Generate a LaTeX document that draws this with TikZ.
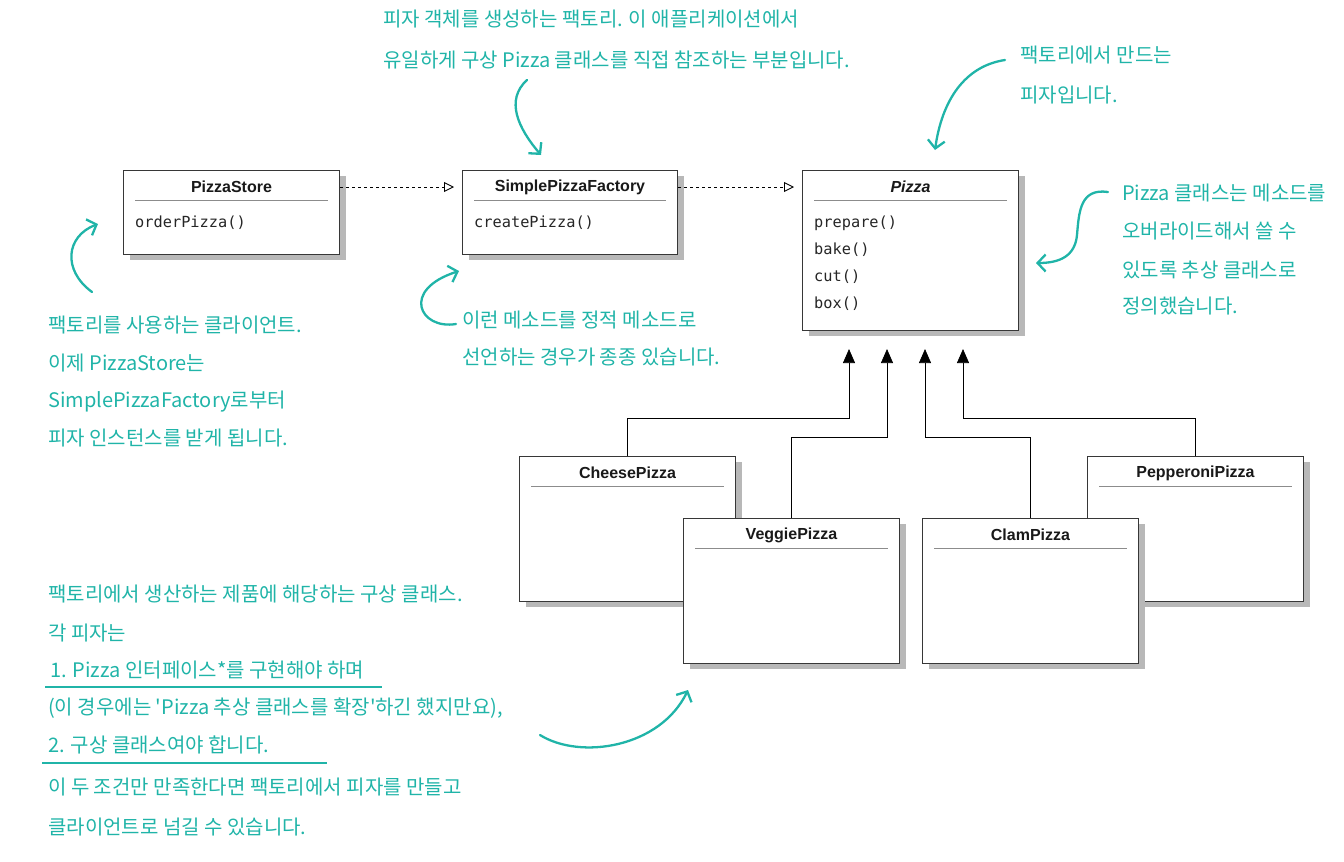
\documentclass[tikz,border=0pt]{standalone}
\usepackage{fontspec}
\setmainfont{Liberation Sans}
\newfontfamily\krfont{Noto Sans CJK KR}
\newfontfamily\monofont{DejaVu Sans Mono}
\usetikzlibrary{arrows.meta,shadows,calc}
\definecolor{anno}{RGB}{32,180,168}
\definecolor{boxline}{RGB}{55,55,55}
\begin{document}
\begin{tikzpicture}[x=1pt,y=-1pt,
  cls/.style={draw=boxline, line width=1pt, fill=white, anchor=north west, inner sep=0pt,
    minimum width=216pt, drop shadow={shadow xshift=6pt, shadow yshift=-5pt, fill=black!28, opacity=1}},
  ttl/.style={font=\fontsize{16}{18}\selectfont\bfseries, inner sep=0pt, text=black!90},
  mth/.style={font=\monofont\fontsize{15.3}{18}\selectfont, anchor=base west, inner sep=0pt, text=black!85},
  sep/.style={draw=black!45, line width=0.9pt},
  dep/.style={dashed, line width=0.9pt, shorten >=8pt, -{Triangle[open,length=10pt,width=10pt]}},
  inh/.style={line width=0.7pt, shorten >=18pt, -{Triangle[length=14pt,width=12pt]}},
  note/.style={font=\krfont\fontsize{20}{23}\selectfont, text=anno, anchor=base west, inner sep=0pt},
  hand/.style={draw=anno, line width=2.3pt, line cap=round, -{Straight Barb[length=8pt,width=17pt]}},
  uline/.style={draw=anno, line width=1.6pt},
]
\useasboundingbox (0,0) rectangle (1344,862);

% ---- top classes
\node[cls, minimum height=84pt] (ps) at (123,170) {};
\node[ttl] (pst) at ($(ps.north)+(0,17)$) {PizzaStore};
\draw[sep] ($(ps.north west)+(12,30)$) -- ($(ps.north east)+(-12,30)$);
\node[mth] (psm) at ($(ps.north west)+(12,57)$) {orderPizza()};

\node[cls, minimum height=84pt, minimum width=215pt] (sf) at (462,170) {};
\node[ttl] (sft) at ($(sf.north)+(0,17)$) {SimplePizzaFactory};
\draw[sep] ($(sf.north west)+(12,30)$) -- ($(sf.north east)+(-12,30)$);
\node[mth] (sfm) at ($(sf.north west)+(12,57)$) {createPizza()};

\node[cls, minimum height=160pt] (pz) at (802,170) {};
\node[ttl, font=\fontsize{16}{18}\selectfont\bfseries\itshape] (pzt) at ($(pz.north)+(0,17)$) {Pizza};
\draw[sep] ($(pz.north west)+(12,30)$) -- ($(pz.north east)+(-12,30)$);
\node[mth] (pzm1) at ($(pz.north west)+(12,57)$) {prepare()};
\node[mth] (pzm2) at ($(pz.north west)+(12,84)$) {bake()};
\node[mth] (pzm3) at ($(pz.north west)+(12,111)$) {cut()};
\node[mth] (pzm4) at ($(pz.north west)+(12,138)$) {box()};

\draw[dep] (pst -| ps.east) -- (sft -| sf.west);
\draw[dep] (sft -| sf.east) -- (pzt -| pz.west);

% ---- concrete classes
\node[cls, minimum height=145pt] (cp) at (519,456) {};
\node[ttl] (cpt) at ($(cp.north)+(0,17)$) {CheesePizza};
\draw[sep] ($(cp.north west)+(12,30)$) -- ($(cp.north east)+(-12,30)$);

\node[cls, minimum height=145pt] (pp) at (1087,456) {};
\node[ttl] (ppt) at ($(pp.north)+(0,17)$) {PepperoniPizza};
\draw[sep] ($(pp.north west)+(12,30)$) -- ($(pp.north east)+(-12,30)$);

\node[cls, minimum height=145pt] (vp) at (683,518) {};
\node[ttl] (vpt) at ($(vp.north)+(0,17)$) {VeggiePizza};
\draw[sep] ($(vp.north west)+(12,30)$) -- ($(vp.north east)+(-12,30)$);

\node[cls, minimum height=145pt] (cl) at (922,518) {};
\node[ttl] (clt) at ($(cl.north)+(0,17)$) {ClamPizza};
\draw[sep] ($(cl.north west)+(12,30)$) -- ($(cl.north east)+(-12,30)$);

\coordinate (h1) at (849,418);
\coordinate (h2) at (887,437);
\coordinate (h3) at (925,437);
\coordinate (h4) at (963,418);
\draw[inh] (cp.north) |- (h1) -- (h1 |- pz.south);
\draw[inh] (vp.north) |- (h2) -- (h2 |- pz.south);
\draw[inh] (cl.north) |- (h3) -- (h3 |- pz.south);
\draw[inh] (pp.north) |- (h4) -- (h4 |- pz.south);

% ---- annotations
\node[note] (n1a) at (383,27) {피자 객체를 생성하는 팩토리. 이 애플리케이션에서};
\node[note] (n1b) at (383,67) {유일하게 구상 Pizza 클래스를 직접 참조하는 부분입니다.};

\node[note] (n2a) at (1020,62) {팩토리에서 만드는};
\node[note] (n2b) at (1020,102) {피자입니다.};

\node[note] (n3a) at (1122,200) {Pizza 클래스는 메소드를};
\node[note] (n3b) at (1122,238) {오버라이드해서 쓸 수};
\node[note] (n3c) at (1122,277) {있도록 추상 클래스로};
\node[note] (n3d) at (1122,313) {정의했습니다.};

\node[note] (n4a) at (48,332) {팩토리를 사용하는 클라이언트.};
\node[note] (n4b) at (48,370) {이제 PizzaStore는};
\node[note] (n4c) at (48,407) {SimplePizzaFactory로부터};
\node[note] (n4d) at (48,445) {피자 인스턴스를 받게 됩니다.};

\node[note] (n5a) at (462,327) {이런 메소드를 정적 메소드로};
\node[note] (n5b) at (462,364) {선언하는 경우가 종종 있습니다.};

\node[note] (n6a) at (48,601) {팩토리에서 생산하는 제품에 해당하는 구상 클래스.};
\node[note] (n6b) at (48,640) {각 피자는};
\node[note] (n6c) at (50,677) {1. Pizza 인터페이스*를 구현해야 하며};
\node[note] (n6d) at (48,714) {(이 경우에는 'Pizza 추상 클래스를 확장'하긴 했지만요),};
\node[note] (n6e) at (48,752) {2. 구상 클래스여야 합니다.};
\node[note] (n6f) at (48,794) {이 두 조건만 만족한다면 팩토리에서 피자를 만들고};
\node[note] (n6g) at (48,834) {클라이언트로 넘길 수 있습니다.};

\coordinate (u1s) at (45,687);  \coordinate (u1e) at (382,687);
\coordinate (u2s) at (42,763);  \coordinate (u2e) at (327,763);
\draw[uline] (u1s) -- (u1e);
\draw[uline] (u2s) -- (u2e);

% ---- hand-drawn arrows
\coordinate (a1s) at (527,80);   \coordinate (a1e) at (541,155);
\coordinate (a2s) at (1005,60);  \coordinate (a2e) at (935,150);
\coordinate (a3s) at (1108,192); \coordinate (a3m) at (1077,235); \coordinate (a3e) at (1036,263);
\coordinate (a4s) at (92,292);   \coordinate (a4e) at (98,224);
\coordinate (a5s) at (456,324);  \coordinate (a5e) at (459,271);
\coordinate (a6s) at (540,735);  \coordinate (a6e) at (688,690);
\draw[hand] (a1s) .. controls (505,100) and (518,128) .. (a1e);
\draw[hand] (a2s) .. controls (965,66) and (942,100) .. (a2e);
\draw[hand] (a3s) .. controls (1080,188) and (1079,212) .. (a3m) .. controls (1075,256) and (1060,263) .. (a3e);
\draw[hand] (a4s) .. controls (62,270) and (66,236) .. (a4e);
\draw[hand] (a5s) .. controls (420,330) and (400,290) .. (a5e);
\draw[hand] (a6s) .. controls (580,760) and (660,748) .. (a6e);
\end{tikzpicture}
\end{document}
